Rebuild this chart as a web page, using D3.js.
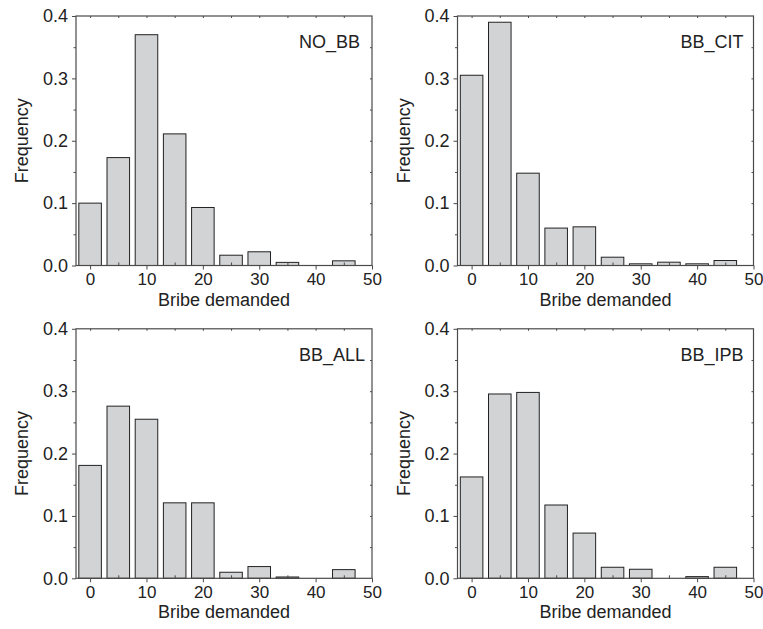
<!DOCTYPE html>
<html><head><meta charset="utf-8">
<script src="https://cdn.jsdelivr.net/npm/d3@7"></script>
<style>body{margin:0;background:#fff}text{font-family:Arial,"Liberation Sans",sans-serif;fill:#222}</style>
</head><body>
<svg id="c" width="763" height="629"></svg>
<script>
const bins = [0,5,10,15,20,25,30,35,40,45];
const panelNames = ["NO_BB","BB_CIT","BB_ALL","BB_IPB"];
const noBB  = [0.100,0.173,0.370,0.211,0.093,0.0165,0.022,0.005,0,0.0075];
const bbCIT = [0.305,0.390,0.148,0.060,0.062,0.0133,0.0027,0.0053,0.0027,0.008];
const bbALL = [0.181,0.276,0.255,0.121,0.121,0.0097,0.0188,0.0021,0,0.0139];
const bbIPB = [0.1625,0.2955,0.298,0.1175,0.0725,0.0177,0.0145,0,0.0027,0.0177];
const xMajorTicks = [0,10,20,30,40,50];
const yMajorTicks = [0,0.1,0.2,0.3,0.4];
const series = [noBB,bbCIT,bbALL,bbIPB];

const svg = d3.select("#c");
const lefts=[76,457.5,76,457.5], tops=[16,16,328.8,328.8];
const W=296, H=249.5, axisCol="#4a4a4a";

series.forEach((vals,i)=>{
  const g = svg.append("g").attr("transform",`translate(${lefts[i]},${tops[i]})`);
  const x = d3.scaleLinear().domain([-2.5,50]).range([0,W]);
  const y = d3.scaleLinear().domain([0,0.4]).range([H,0]);
  // bars
  g.selectAll("rect.bar").data(bins.map((b,j)=>({b,v:vals[j]})).filter(d=>d.v>0))
   .join("rect").attr("class","bar")
   .attr("x",d=>x(d.b-2)).attr("width",d=>x(d.b+2)-x(d.b-2))
   .attr("y",d=>y(d.v)).attr("height",d=>H-y(d.v))
   .attr("fill","#d2d3d5").attr("stroke","#222").attr("stroke-width",1);
  // frame
  g.append("rect").attr("x",0).attr("y",0).attr("width",W).attr("height",H)
   .attr("fill","none").attr("stroke",axisCol).attr("stroke-width",1.2);
  const xMinor = d3.range(5,50,10);
  const yMinor = d3.range(0.05,0.4,0.1);
  // bottom axis
  const bx = g.append("g").attr("transform",`translate(0,${H})`)
    .call(d3.axisBottom(x).tickValues(xMajorTicks).tickSize(4).tickPadding(3.5).tickFormat(d3.format("d")));
  bx.select(".domain").remove();
  bx.selectAll("line").attr("stroke",axisCol);
  bx.selectAll("text").attr("font-size",17).attr("fill","#222").style("font-family","Arial, 'Liberation Sans', sans-serif");
  g.append("g").attr("transform",`translate(0,${H})`)
    .call(d3.axisTop(x).tickValues(xMinor).tickSize(3).tickFormat(""))
    .call(a=>{a.select(".domain").remove();a.selectAll("line").attr("stroke",axisCol);});
  // top axis ticks
  g.append("g").call(d3.axisBottom(x).tickValues(d3.range(0,50,5)).tickSize(2).tickFormat(""))
    .call(a=>{a.select(".domain").remove();a.selectAll("line").attr("stroke",axisCol);});
  // left axis
  const ly = g.append("g").call(d3.axisLeft(y).tickValues(yMajorTicks).tickSize(4).tickPadding(4).tickFormat(d3.format(".1f")));
  ly.select(".domain").remove();
  ly.selectAll("line").attr("stroke",axisCol);
  ly.selectAll("text").attr("font-size",18).attr("fill","#222").style("font-family","Arial, 'Liberation Sans', sans-serif");
  g.append("g").call(d3.axisLeft(y).tickValues(yMinor).tickSize(2.5).tickFormat(""))
    .call(a=>{a.select(".domain").remove();a.selectAll("line").attr("stroke",axisCol);});
  // right axis ticks
  g.append("g").attr("transform",`translate(${W},0)`)
    .call(d3.axisLeft(y).tickValues(d3.range(0.05,0.4,0.05)).tickSize(2).tickFormat(""))
    .call(a=>{a.select(".domain").remove();a.selectAll("line").attr("stroke",axisCol);});
  // labels
  g.append("text").attr("x",W/2).attr("y",H+40).attr("text-anchor","middle")
   .attr("font-size",18).text("Bribe demanded");
  g.append("text").attr("transform",`translate(-48,${H/2}) rotate(-90)`).attr("text-anchor","middle")
   .attr("font-size",18).text("Frequency");
  g.append("text").attr("x",223).attr("y",32).attr("font-size",18).text(panelNames[i]);
});
</script>
</body></html>
